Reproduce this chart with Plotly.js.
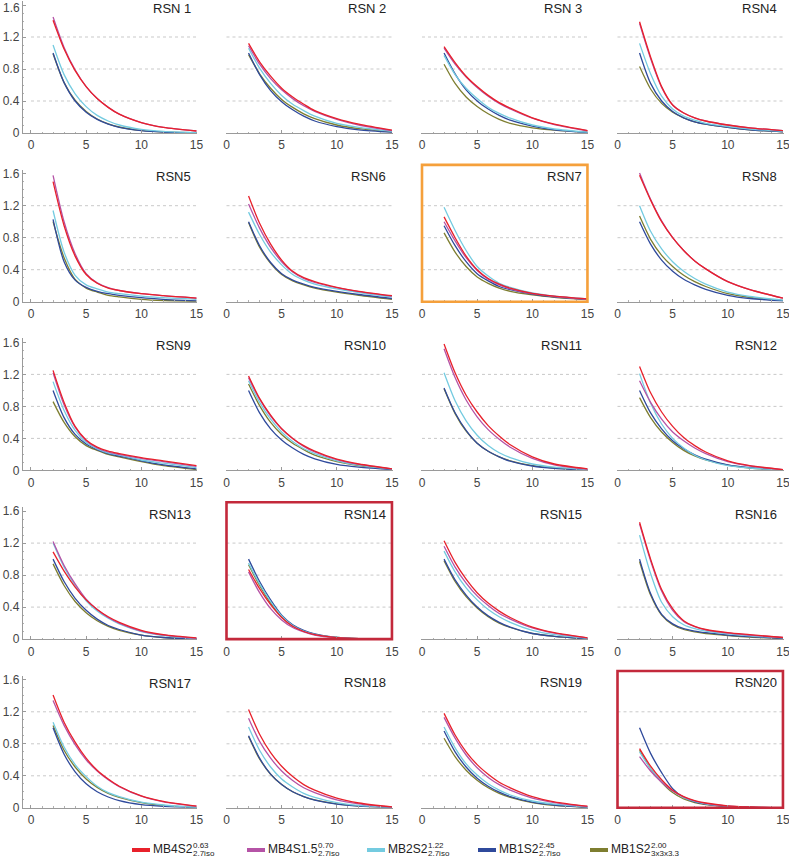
<!DOCTYPE html>
<html>
<head>
<meta charset="utf-8">
<script src="https://cdn.plot.ly/plotly-3.0.1.min.js"></script>
<style>
html, body { margin: 0; padding: 0; background: #fff; }
#chart { width: 789px; height: 861px; }
</style>
</head>
<body>
<div id="chart"></div>
<script>
// x positions shared by every curve
var xs = [2, 3, 4, 5, 6, 7, 8, 10, 12, 15];

var panelNames = ['RSN 1', 'RSN 2', 'RSN 3', 'RSN4', 'RSN5', 'RSN6', 'RSN7', 'RSN8', 'RSN9', 'RSN10',
                  'RSN11', 'RSN12', 'RSN13', 'RSN14', 'RSN15', 'RSN16', 'RSN17', 'RSN18', 'RSN19', 'RSN20'];

var seriesNames = ['MB4S2', 'MB4S1.5', 'MB2S2', 'MB1S2', 'MB1S2'];
var seriesSup = ['0.63', '0.70', '1.22', '2.45', '2.00'];
var seriesSub = ['2.7iso', '2.7iso', '2.7iso', '2.7iso', '3x3x3.3'];
var seriesColors = ['#e8212b', '#b553a6', '#74cbe0', '#2f4a9c', '#7e7e30'];

// one row per panel (RSN 1 .. RSN20), values at xs
var red = [
	[1.41, 1.05, 0.78, 0.58, 0.43, 0.32, 0.235, 0.13, 0.07, 0.025],
	[1.12, 0.89, 0.71, 0.56, 0.45, 0.36, 0.28, 0.18, 0.11, 0.035],
	[1.08, 0.88, 0.71, 0.58, 0.47, 0.38, 0.31, 0.19, 0.11, 0.03],
	[1.39, 0.95, 0.58, 0.35, 0.25, 0.19, 0.15, 0.10, 0.065, 0.03],
	[1.50, 0.95, 0.57, 0.34, 0.23, 0.17, 0.14, 0.10, 0.075, 0.045],
	[1.32, 0.98, 0.72, 0.52, 0.38, 0.30, 0.25, 0.18, 0.13, 0.075],
	[1.06, 0.80, 0.57, 0.40, 0.29, 0.22, 0.17, 0.105, 0.07, 0.035],
	[1.58, 1.27, 1.00, 0.80, 0.64, 0.51, 0.41, 0.25, 0.15, 0.045],
	[1.25, 0.85, 0.55, 0.38, 0.29, 0.24, 0.21, 0.16, 0.12, 0.06],
	[1.18, 0.90, 0.69, 0.52, 0.40, 0.31, 0.24, 0.14, 0.08, 0.02],
	[1.58, 1.22, 0.94, 0.73, 0.56, 0.43, 0.32, 0.17, 0.08, 0.02],
	[1.30, 0.97, 0.73, 0.55, 0.41, 0.31, 0.23, 0.12, 0.06, 0.01],
	[1.09, 0.85, 0.65, 0.49, 0.37, 0.28, 0.21, 0.11, 0.055, 0.015],
	[0.87, 0.63, 0.43, 0.27, 0.16, 0.095, 0.055, 0.018, 0.005, 0],
	[1.23, 0.96, 0.75, 0.58, 0.45, 0.35, 0.27, 0.15, 0.08, 0.015],
	[1.46, 1.00, 0.62, 0.38, 0.23, 0.16, 0.12, 0.08, 0.055, 0.02],
	[1.41, 1.07, 0.82, 0.62, 0.47, 0.36, 0.27, 0.15, 0.08, 0.02],
	[1.23, 0.92, 0.69, 0.52, 0.39, 0.29, 0.22, 0.12, 0.06, 0.01],
	[1.18, 0.91, 0.70, 0.54, 0.42, 0.32, 0.25, 0.14, 0.075, 0.02],
	[0.74, 0.52, 0.35, 0.22, 0.14, 0.09, 0.06, 0.025, 0.01, 0]
];
var magenta = [
	[1.45, 1.07, 0.79, 0.58, 0.43, 0.32, 0.235, 0.13, 0.07, 0.025],
	[1.09, 0.86, 0.68, 0.54, 0.43, 0.34, 0.27, 0.17, 0.10, 0.03],
	[1.06, 0.86, 0.70, 0.57, 0.46, 0.37, 0.30, 0.185, 0.105, 0.028],
	[1.37, 0.93, 0.57, 0.35, 0.25, 0.19, 0.15, 0.10, 0.065, 0.03],
	[1.58, 1.00, 0.60, 0.35, 0.235, 0.175, 0.14, 0.10, 0.075, 0.045],
	[1.22, 0.92, 0.68, 0.50, 0.37, 0.29, 0.24, 0.175, 0.125, 0.07],
	[1.00, 0.76, 0.55, 0.39, 0.28, 0.21, 0.16, 0.10, 0.065, 0.03],
	[1.61, 1.28, 1.01, 0.80, 0.64, 0.51, 0.41, 0.25, 0.15, 0.045],
	[1.22, 0.82, 0.54, 0.37, 0.28, 0.23, 0.20, 0.15, 0.11, 0.05],
	[1.16, 0.89, 0.68, 0.52, 0.40, 0.30, 0.23, 0.135, 0.075, 0.02],
	[1.52, 1.16, 0.88, 0.67, 0.51, 0.39, 0.29, 0.15, 0.07, 0.015],
	[1.12, 0.85, 0.64, 0.48, 0.37, 0.28, 0.21, 0.11, 0.055, 0.01],
	[1.22, 0.92, 0.69, 0.50, 0.37, 0.27, 0.20, 0.10, 0.05, 0.01],
	[0.84, 0.58, 0.38, 0.24, 0.145, 0.09, 0.05, 0.016, 0.004, 0],
	[1.16, 0.90, 0.70, 0.54, 0.42, 0.32, 0.25, 0.14, 0.075, 0.015],
	[1.44, 0.98, 0.60, 0.36, 0.22, 0.155, 0.115, 0.075, 0.05, 0.02],
	[1.34, 1.03, 0.79, 0.60, 0.46, 0.35, 0.265, 0.145, 0.075, 0.02],
	[1.12, 0.83, 0.62, 0.46, 0.34, 0.25, 0.19, 0.10, 0.05, 0.008],
	[1.13, 0.87, 0.66, 0.50, 0.38, 0.29, 0.22, 0.12, 0.065, 0.015],
	[0.64, 0.46, 0.32, 0.21, 0.135, 0.085, 0.055, 0.022, 0.008, 0]
];
var cyan = [
	[1.10, 0.73, 0.49, 0.33, 0.22, 0.15, 0.10, 0.045, 0.02, 0.005],
	[1.06, 0.81, 0.62, 0.47, 0.36, 0.28, 0.21, 0.12, 0.07, 0.02],
	[0.97, 0.73, 0.56, 0.43, 0.32, 0.245, 0.185, 0.10, 0.05, 0.01],
	[1.12, 0.74, 0.46, 0.30, 0.21, 0.16, 0.12, 0.08, 0.05, 0.02],
	[1.14, 0.62, 0.33, 0.21, 0.16, 0.12, 0.10, 0.07, 0.05, 0.03],
	[1.12, 0.84, 0.62, 0.46, 0.34, 0.27, 0.22, 0.16, 0.115, 0.06],
	[1.18, 0.89, 0.64, 0.44, 0.32, 0.23, 0.18, 0.11, 0.07, 0.035],
	[1.20, 0.88, 0.66, 0.50, 0.38, 0.29, 0.22, 0.12, 0.065, 0.02],
	[1.11, 0.75, 0.50, 0.35, 0.27, 0.22, 0.19, 0.13, 0.09, 0.035],
	[1.12, 0.85, 0.64, 0.48, 0.36, 0.27, 0.21, 0.12, 0.065, 0.015],
	[1.22, 0.87, 0.62, 0.44, 0.31, 0.22, 0.16, 0.08, 0.04, 0.01],
	[1.21, 0.84, 0.58, 0.40, 0.28, 0.19, 0.13, 0.06, 0.03, 0.005],
	[1.20, 0.90, 0.67, 0.48, 0.35, 0.26, 0.19, 0.095, 0.045, 0.01],
	[0.95, 0.69, 0.47, 0.29, 0.17, 0.10, 0.06, 0.02, 0.005, 0],
	[1.10, 0.84, 0.64, 0.49, 0.37, 0.28, 0.21, 0.11, 0.055, 0.01],
	[1.30, 0.82, 0.46, 0.28, 0.18, 0.13, 0.10, 0.065, 0.04, 0.015],
	[1.07, 0.76, 0.54, 0.39, 0.27, 0.19, 0.14, 0.07, 0.035, 0.005],
	[1.01, 0.72, 0.51, 0.36, 0.26, 0.18, 0.13, 0.065, 0.03, 0.005],
	[1.01, 0.75, 0.55, 0.41, 0.30, 0.22, 0.16, 0.085, 0.045, 0.01],
	[0.70, 0.49, 0.33, 0.21, 0.13, 0.08, 0.05, 0.02, 0.007, 0]
];
var blue = [
	[1.00, 0.63, 0.40, 0.26, 0.17, 0.11, 0.07, 0.03, 0.012, 0.002],
	[1.00, 0.73, 0.53, 0.39, 0.29, 0.21, 0.15, 0.08, 0.04, 0.01],
	[1.00, 0.74, 0.54, 0.40, 0.30, 0.22, 0.16, 0.085, 0.04, 0.005],
	[1.00, 0.62, 0.40, 0.27, 0.19, 0.14, 0.11, 0.07, 0.04, 0.015],
	[1.03, 0.50, 0.27, 0.18, 0.13, 0.10, 0.08, 0.05, 0.03, 0.01],
	[1.00, 0.70, 0.49, 0.35, 0.27, 0.22, 0.18, 0.13, 0.09, 0.04],
	[0.95, 0.70, 0.50, 0.35, 0.26, 0.19, 0.15, 0.095, 0.06, 0.03],
	[1.00, 0.72, 0.52, 0.38, 0.28, 0.21, 0.155, 0.08, 0.04, 0.01],
	[1.00, 0.66, 0.45, 0.33, 0.26, 0.21, 0.18, 0.12, 0.07, 0.02],
	[1.00, 0.72, 0.52, 0.38, 0.28, 0.20, 0.145, 0.075, 0.04, 0.01],
	[1.03, 0.72, 0.50, 0.34, 0.24, 0.17, 0.115, 0.055, 0.025, 0.005],
	[1.00, 0.72, 0.52, 0.37, 0.27, 0.195, 0.14, 0.07, 0.035, 0.005],
	[1.00, 0.72, 0.51, 0.36, 0.25, 0.17, 0.12, 0.05, 0.02, 0.005],
	[1.00, 0.72, 0.49, 0.30, 0.18, 0.11, 0.065, 0.02, 0.005, 0],
	[1.00, 0.74, 0.55, 0.40, 0.29, 0.21, 0.15, 0.07, 0.035, 0.005],
	[1.00, 0.57, 0.31, 0.19, 0.13, 0.10, 0.08, 0.05, 0.03, 0.01],
	[1.00, 0.67, 0.45, 0.30, 0.20, 0.135, 0.09, 0.04, 0.018, 0.003],
	[0.90, 0.62, 0.42, 0.29, 0.20, 0.14, 0.095, 0.045, 0.02, 0.003],
	[0.96, 0.70, 0.51, 0.37, 0.27, 0.195, 0.14, 0.07, 0.035, 0.007],
	[1.00, 0.68, 0.44, 0.24, 0.13, 0.075, 0.045, 0.015, 0.005, 0]
];
var olive = [
	[0.99, 0.63, 0.41, 0.27, 0.175, 0.115, 0.075, 0.032, 0.013, 0.003],
	[0.98, 0.74, 0.56, 0.42, 0.32, 0.24, 0.18, 0.10, 0.055, 0.015],
	[0.86, 0.62, 0.45, 0.33, 0.24, 0.17, 0.12, 0.065, 0.035, 0.01],
	[0.83, 0.55, 0.37, 0.26, 0.19, 0.14, 0.11, 0.07, 0.04, 0.015],
	[1.00, 0.55, 0.28, 0.17, 0.12, 0.08, 0.06, 0.03, 0.015, 0.005],
	[0.99, 0.68, 0.48, 0.34, 0.26, 0.21, 0.17, 0.12, 0.08, 0.03],
	[0.86, 0.62, 0.44, 0.31, 0.23, 0.17, 0.13, 0.085, 0.055, 0.025],
	[1.07, 0.78, 0.58, 0.44, 0.33, 0.25, 0.19, 0.10, 0.055, 0.015],
	[0.86, 0.60, 0.42, 0.31, 0.25, 0.20, 0.17, 0.11, 0.06, 0.01],
	[1.08, 0.81, 0.60, 0.45, 0.34, 0.26, 0.19, 0.11, 0.06, 0.015],
	[1.02, 0.71, 0.49, 0.34, 0.24, 0.17, 0.12, 0.06, 0.03, 0.008],
	[0.91, 0.66, 0.48, 0.35, 0.25, 0.18, 0.13, 0.065, 0.03, 0.005],
	[0.94, 0.67, 0.47, 0.33, 0.23, 0.16, 0.11, 0.05, 0.02, 0.005],
	[0.93, 0.67, 0.45, 0.28, 0.165, 0.10, 0.06, 0.02, 0.005, 0],
	[0.98, 0.72, 0.53, 0.39, 0.28, 0.20, 0.145, 0.07, 0.035, 0.005],
	[0.97, 0.55, 0.30, 0.18, 0.12, 0.09, 0.07, 0.045, 0.025, 0.008],
	[1.03, 0.72, 0.51, 0.36, 0.255, 0.18, 0.13, 0.065, 0.03, 0.005],
	[0.89, 0.61, 0.42, 0.29, 0.20, 0.14, 0.10, 0.05, 0.025, 0.005],
	[0.87, 0.64, 0.47, 0.345, 0.25, 0.18, 0.13, 0.065, 0.03, 0.005],
	[0.72, 0.49, 0.32, 0.19, 0.11, 0.065, 0.04, 0.015, 0.005, 0]
];

var xTicks = [0, 5, 10, 15];
var yTicks = [0, 0.4, 0.8, 1.2, 1.6];
var yTickText = ['0', '0.4', '0.8', '1.2', '1.6'];
var gridValues = [0.4, 0.8, 1.2];
var framedPanels = [7, 14, 20];
var frameColors = ['#f5a03b', '#c3293b', '#c3293b'];

var allSeries = [red, magenta, cyan, blue, olive];

// ---- geometry (pixels) ----
var W = 789, H = 861;
var pxPerX = 11.03, pxPerY = 80;
var xMax = 15.05;
var FONT = 'Liberation Sans, Arial, sans-serif';

var data = [];
var layout = {
	width: W, height: H,
	margin: {l: 0, r: 0, t: 0, b: 0},
	paper_bgcolor: '#fff', plot_bgcolor: '#fff',
	showlegend: false,
	font: {family: FONT, size: 12, color: '#444'},
	shapes: [],
	annotations: []
};

for (var p = 0; p < 20; p++) {
	var c = p % 4, r = Math.floor(p / 4);
	var n = p + 1;
	var xid = n == 1 ? 'x' : 'x' + n;
	var yid = n == 1 ? 'y' : 'y' + n;
	var x0px = 31 + 195.5 * c;   // pixel of x = 0
	var y0px = 133 + 168.7 * r;  // pixel of y = 0
	var xMin = c == 0 ? -0.75 : -0.05; // only the first column carries a y axis, left of 0
	var yTop = c == 0 ? 1.65 : 1.74;
	var topPx = y0px - yTop * pxPerY;
	if (topPx < 0) { topPx = 0; yTop = y0px / pxPerY; }

	// top-left panel: the 1.6 label sits at the page edge, drawn as annotation so it is not cut
	var tickText = yTickText.slice();
	if (p == 0) tickText[4] = '';

	layout['xaxis' + (n == 1 ? '' : n)] = {
		domain: [(x0px + xMin * pxPerX) / W, (x0px + xMax * pxPerX) / W],
		range: [xMin, xMax],
		anchor: yid,
		showgrid: false, zeroline: false,
		showline: true, linecolor: '#9a9a9a', linewidth: 1,
		tickvals: xTicks, ticks: 'inside', ticklen: 3, tickcolor: '#9a9a9a',
		minor: {dtick: 1, tick0: 0, ticks: 'inside', ticklen: 1.5, tickcolor: '#b0b0b0'},
		ticklabelstandoff: 1,
		ticklabeloverflow: 'allow',
		tickfont: {size: 12, color: '#444'},
		fixedrange: true
	};
	layout['yaxis' + (n == 1 ? '' : n)] = {
		domain: [1 - y0px / H, 1 - topPx / H],
		range: [0, yTop],
		anchor: xid,
		showgrid: false, zeroline: false,
		showline: c == 0, linecolor: '#9a9a9a', linewidth: 1,
		tickvals: yTicks, ticktext: tickText, showticklabels: c == 0,
		ticks: c == 0 ? 'inside' : '', ticklen: 3, tickcolor: '#9a9a9a',
		minor: c == 0 ? {dtick: 0.1, tick0: 0, ticks: 'inside', ticklen: 1.5, tickcolor: '#b0b0b0'} : {},
		ticklabeloverflow: 'allow',
		tickfont: {size: 12, color: '#444'},
		fixedrange: true
	};

	gridValues.forEach(function(g) {
		layout.shapes.push({
			type: 'line', xref: xid, yref: yid, x0: 0, x1: 15, y0: g, y1: g,
			line: {color: '#c9c9c9', width: 1, dash: '3px,3px'}, layer: 'below'
		});
	});

	// olive first so red ends up on top
	for (var s = allSeries.length - 1; s >= 0; s--) {
		data.push({
			type: 'scatter', mode: 'lines',
			x: xs, y: allSeries[s][p],
			xaxis: xid, yaxis: yid,
			line: {color: seriesColors[s], width: 1.3, shape: 'spline', smoothing: 0.8},
			hoverinfo: 'skip'
		});
	}

	layout.annotations.push({
		xref: xid, yref: yid, x: 14.65, y: 1.56,
		xanchor: 'right', yanchor: 'middle', showarrow: false,
		text: panelNames[p], font: {size: 13, color: '#222'}
	});

	var fi = framedPanels.indexOf(n);
	if (fi >= 0) {
		layout.shapes.push({
			type: 'rect', xref: 'paper', yref: 'paper',
			x0: x0px / W, x1: (x0px + 15 * pxPerX) / W,
			y0: 1 - y0px / H, y1: 1 - (y0px - 1.71 * pxPerY) / H,
			line: {color: frameColors[fi], width: 2.6}, fillcolor: 'rgba(0,0,0,0)', layer: 'above'
		});
	}
}

layout.annotations.push({
	xref: 'paper', yref: 'paper', x: 20.5 / W, y: 1,
	xanchor: 'right', yanchor: 'top', showarrow: false, borderpad: 0,
	text: yTickText[4], font: {size: 12, color: '#444'}
});

// ---- custom legend with stacked super/subscripts ----
var legendX = [132, 247, 367, 478, 590];
var canvas = document.createElement('canvas');
var ctx = canvas.getContext('2d');
ctx.font = '12px "Liberation Sans", Arial, sans-serif';
for (var i = 0; i < seriesNames.length; i++) {
	var sx = legendX[i];
	layout.shapes.push({
		type: 'line', xref: 'paper', yref: 'paper',
		x0: sx / W, x1: (sx + 18) / W, y0: 1 - 850 / H, y1: 1 - 850 / H,
		line: {color: seriesColors[i], width: 4}
	});
	var tx = sx + 20;
	var tw = ctx.measureText(seriesNames[i]).width;
	layout.annotations.push({
		xref: 'paper', yref: 'paper', x: (tx - 1) / W, y: 1 - 849 / H,
		xanchor: 'left', yanchor: 'middle', showarrow: false,
		text: seriesNames[i], font: {size: 12, color: '#222'}
	});
	layout.annotations.push({
		xref: 'paper', yref: 'paper', x: (tx + tw) / W, y: 1 - 845.5 / H,
		xanchor: 'left', yanchor: 'middle', showarrow: false,
		text: seriesSup[i], font: {size: 8, color: '#222'}
	});
	layout.annotations.push({
		xref: 'paper', yref: 'paper', x: (tx + tw) / W, y: 1 - 853.5 / H,
		xanchor: 'left', yanchor: 'middle', showarrow: false,
		text: seriesSub[i], font: {size: 8, color: '#222'}
	});
}

Plotly.newPlot('chart', data, layout, {displayModeBar: false, staticPlot: true});
</script>
</body>
</html>
